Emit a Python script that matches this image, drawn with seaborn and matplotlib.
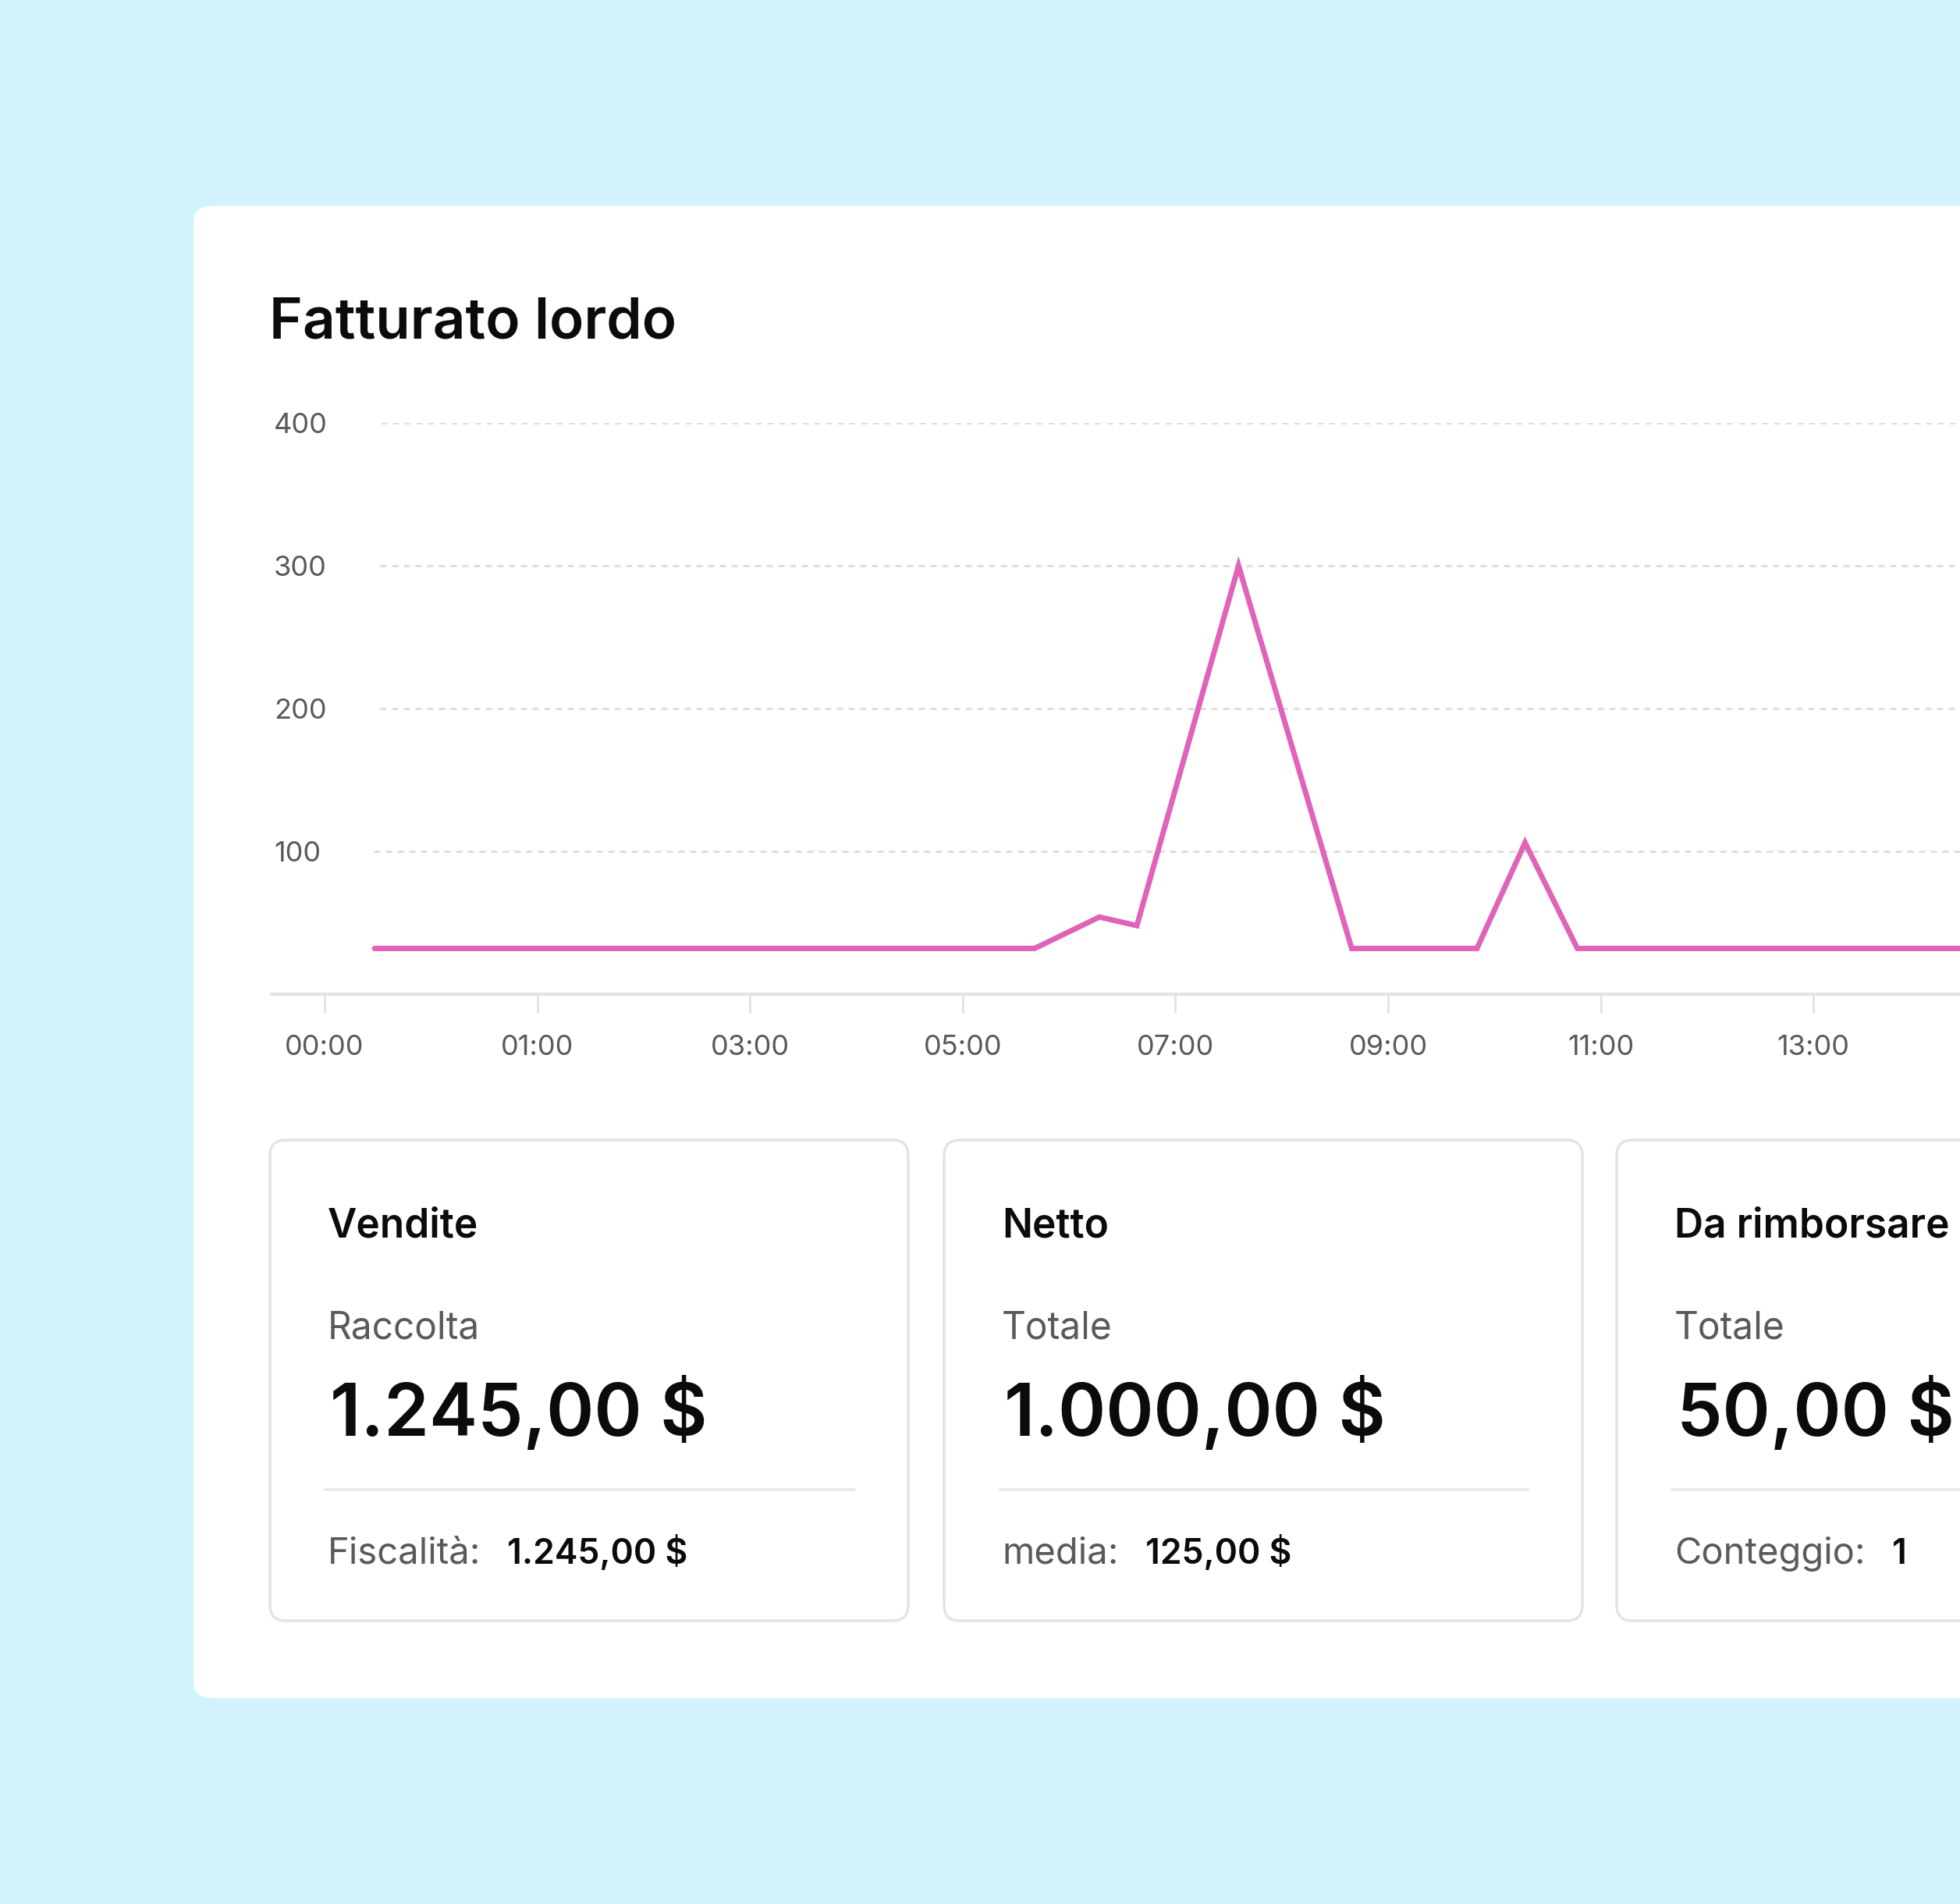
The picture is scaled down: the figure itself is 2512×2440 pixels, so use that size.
import numpy as np
import pandas as pd
import matplotlib
matplotlib.use("Agg")
import matplotlib.pyplot as plt
import seaborn as sns
from matplotlib.patches import FancyBboxPatch
from matplotlib.lines import Line2D
from matplotlib.transforms import IdentityTransform, blended_transform_factory

# ---------------- data ----------------
chart_title = "Fatturato lordo"
time_pos = [0.235, 3.338, 3.643, 3.819, 4.297, 4.829, 5.418, 5.644, 5.890, 8.0]
revenue = [32, 32, 54, 48, 300, 32, 32, 106, 32, 32]
x_tick_labels = ["00:00", "01:00", "03:00", "05:00", "07:00", "09:00", "11:00", "13:00"]
y_ticks = [100, 200, 300, 400]

card_titles = ["Vendite", "Netto", "Da rimborsare"]
card_sublabels = ["Raccolta", "Totale", "Totale"]
card_values = ["1.245,00 $", "1.000,00 $", "50,00 $"]
card_foot_labels = ["Fiscalità:", "media:", "Conteggio:"]
card_foot_values = ["1.245,00 $", "125,00 $", "1"]

# ---------------- style ----------------
W, H, DPI = 2512, 2440, 100
sns.set_theme(style="white")
plt.rcParams['font.family'] = ['Inter', 'DejaVu Sans']
plt.rcParams['lines.scale_dashes'] = False

BG = '#d3f3fc'
PINK = '#e063ba'
GRID = '#dedede'
AXIS = '#e3e3e3'
LABEL_GRAY = '#5a5a5a'
TXT = '#0b0b0b'


def pt(px):
    return px * 72.0 / DPI


def Y(y):
    return H - y


fig = plt.figure(figsize=(W / DPI, H / DPI), dpi=DPI, facecolor=BG)
PX = IdentityTransform()

# white panel
panel = FancyBboxPatch((248, Y(2176)), 2700 - 248, 2176 - 264,
                       boxstyle="round,pad=0,rounding_size=22",
                       transform=PX, facecolor='white', edgecolor='none', zorder=-1)
fig.add_artist(panel)

# title
fig.text(345, Y(433), chart_title, fontsize=52.5, weight='semibold', color=TXT,
         transform=PX, va='baseline', ha='left')

# ---------------- chart ----------------
x0_px, x_step_px = 416, 272.6
ax_left_px, ax_bottom_px, ax_top_px = 348, 1274, 542
ax = fig.add_axes([ax_left_px / W, (H - ax_bottom_px) / H,
                   1 - ax_left_px / W, (ax_bottom_px - ax_top_px) / H])
ax.set_facecolor('none')

df = pd.DataFrame({"t": time_pos, "rev": revenue})
sns.lineplot(data=df, x="t", y="rev", ax=ax, color=PINK, linewidth=pt(7),
             solid_joinstyle='miter', zorder=3)

xmin = (ax_left_px - x0_px) / x_step_px
xmax = (W - x0_px) / x_step_px
ax.set_xlim(xmin, xmax)
ax.set_ylim(0, 400)
ax.set_xlabel("")
ax.set_ylabel("")

for s in ['top', 'right', 'left']:
    ax.spines[s].set_visible(False)
ax.spines['bottom'].set_color(AXIS)
ax.spines['bottom'].set_linewidth(pt(4))

ax.set_xticks(range(len(x_tick_labels)))
ax.set_xticklabels(x_tick_labels)
ax.tick_params(axis='x', length=pt(24), width=pt(3), color=AXIS, labelcolor=LABEL_GRAY,
               labelsize=26, pad=20, bottom=True)
ax.set_yticks([])

renderer = fig.canvas.get_renderer()
ytrans = blended_transform_factory(ax.transAxes, ax.transData)
label_x = (351 - ax_left_px) / (W - ax_left_px)
for yv in y_ticks:
    t = ax.text(label_x, yv, str(yv), fontsize=26, color=LABEL_GRAY, ha='left',
                va='center_baseline', transform=ytrans, clip_on=False)
    ext = t.get_window_extent(renderer=renderer)
    start_px = ext.x1 + 68
    start_data = ax.transData.inverted().transform((start_px, 0))[0]
    ax.hlines(yv, start_data, xmax, colors=GRID, linewidth=pt(3),
              linestyles=(0, (pt(8), pt(7))), zorder=1)

# ---------------- cards ----------------
card_lefts = [346, 1210, 2072]
card_w = 818
card_top, card_bot = 1461, 2077
for i in range(len(card_titles)):
    L = card_lefts[i]
    box = FancyBboxPatch((L, Y(card_bot)), card_w, card_bot - card_top,
                         boxstyle="round,pad=0,rounding_size=20", transform=PX,
                         facecolor='white', edgecolor='#e4e4e4', linewidth=pt(3.5), zorder=1)
    fig.add_artist(box)
    tx = L + 74
    fig.text(tx, Y(1586), card_titles[i], fontsize=37, weight='semibold', color=TXT,
             transform=PX, va='baseline', ha='left', zorder=2)
    fig.text(tx, Y(1715), card_sublabels[i], fontsize=34.5, color=LABEL_GRAY,
             transform=PX, va='baseline', ha='left', zorder=2)
    fig.text(tx + 3, Y(1840), card_values[i], fontsize=67, weight='semibold', color=TXT,
             transform=PX, va='baseline', ha='left', zorder=2)
    fig.add_artist(Line2D([L + 71, L + 749], [Y(1909), Y(1909)], transform=PX,
                          color='#e6e6e6', linewidth=pt(3.5), zorder=2))
    ft = fig.text(tx, Y(2004), card_foot_labels[i], fontsize=34, color=LABEL_GRAY,
                  transform=PX, va='baseline', ha='left', zorder=2)
    fx = ft.get_window_extent(renderer=renderer).x1 + 34
    fig.text(fx, Y(2004), card_foot_values[i], fontsize=32, weight='semibold', color=TXT,
             transform=PX, va='baseline', ha='left', zorder=2)

fig.savefig("out.png", dpi=DPI, facecolor=BG)
